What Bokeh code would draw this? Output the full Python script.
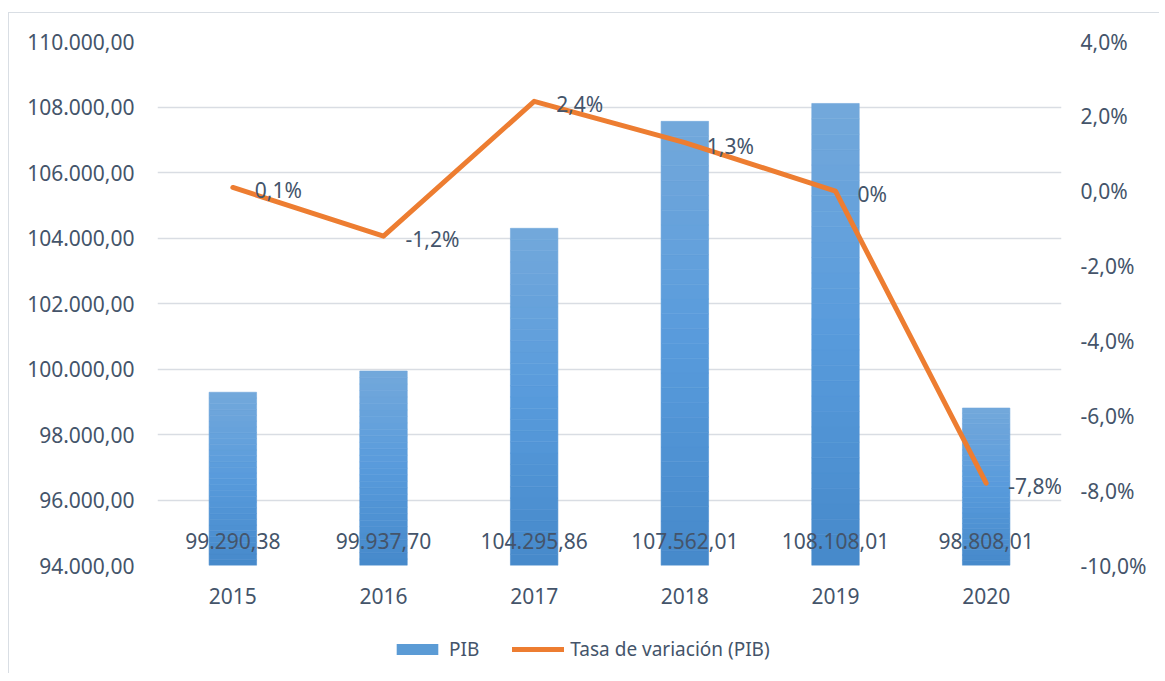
from bokeh.plotting import figure
from bokeh.layouts import column
from bokeh.models import (Range1d, FactorRange, LinearAxis, FixedTicker,
                          CustomJSTickFormatter, ColumnDataSource, Legend, LegendItem)
from bokeh.core.properties import value
from bokeh.embed import file_html
from bokeh.resources import INLINE

# ---------------- data ----------------
years = ["2015", "2016", "2017", "2018", "2019", "2020"]
pib = [99290.38, 99937.70, 104295.86, 107562.01, 108108.01, 98808.01]
pib_labels = ["99.290,38", "99.937,70", "104.295,86", "107.562,01", "108.108,01", "98.808,01"]
tasa = [0.1, -1.2, 2.4, 1.3, 0.0, -7.8]
tasa_labels = ["0,1%", "-1,2%", "2,4%", "1,3%", "0%", "-7,8%"]
left_ticks = [94000, 96000, 98000, 100000, 102000, 104000, 106000, 108000, 110000]
left_tick_labels = ["94.000,00", "96.000,00", "98.000,00", "100.000,00", "102.000,00",
                    "104.000,00", "106.000,00", "108.000,00", "110.000,00"]
right_ticks = [-10, -8, -6, -4, -2, 0, 2, 4]
right_tick_labels = ["-10,0%", "-8,0%", "-6,0%", "-4,0%", "-2,0%", "0,0%", "2,0%", "4,0%"]

FONT = "Noto Sans"
TXT = "#44546A"
GRID = "#D9DDE3"
ORANGE = "#ED7D31"
BLUE = "#5B9BD5"
TICK_SIZE = "21px"

base = left_ticks[0]

x_range = FactorRange(*years)
y_range = Range1d(left_ticks[0], left_ticks[-1])

p = figure(x_range=x_range, y_range=y_range,
           width=1150, height=600, output_backend="svg", toolbar_location=None,
           min_border_left=148, min_border_right=98, min_border_top=28, min_border_bottom=48)
p.outline_line_color = None
p.xgrid.grid_line_color = None
p.ygrid.grid_line_color = GRID
p.ygrid.grid_line_width = 1.5
p.ygrid.ticker = FixedTicker(ticks=left_ticks)

fmt_js = "const i = tv.indexOf(tick); return i >= 0 ? tl[i] : '';"

ly = p.yaxis[0]
ly.ticker = FixedTicker(ticks=left_ticks)
ly.formatter = CustomJSTickFormatter(args=dict(tv=left_ticks, tl=left_tick_labels), code=fmt_js)

p.extra_y_ranges = {"pct": Range1d(right_ticks[0], right_ticks[-1])}
ry = LinearAxis(y_range_name="pct", ticker=FixedTicker(ticks=right_ticks),
                formatter=CustomJSTickFormatter(args=dict(tv=right_ticks, tl=right_tick_labels), code=fmt_js))
p.add_layout(ry, "right")

for ax in [ly, ry, p.xaxis[0]]:
    ax.axis_line_color = None
    ax.major_tick_line_color = None
    ax.minor_tick_line_color = None
    ax.major_label_text_font = FONT
    ax.major_label_text_font_size = TICK_SIZE
    ax.major_label_text_color = TXT
ly.major_label_standoff = 17
ry.major_label_standoff = 13
p.xaxis[0].major_label_standoff = 16

# ---------------- gradient bars ----------------
def mix(c1, c2, t):
    return "#%02x%02x%02x" % tuple(int(round(a + (b - a) * t)) for a, b in zip(c1, c2))

c_bot = (70, 137, 202)
c_mid = (88, 155, 220)
c_top = (115, 168, 219)

N = 30
bx, bb, bt, bc = [], [], [], []
for yr, v in zip(years, pib):
    for k in range(N):
        t0, t1 = k / N, (k + 1) / N
        tm = (t0 + t1) / 2
        col = mix(c_bot, c_mid, tm / 0.5) if tm < 0.5 else mix(c_mid, c_top, (tm - 0.5) / 0.5)
        bx.append(yr)
        bb.append(base + (v - base) * t0)
        bt.append(base + (v - base) * t1)
        bc.append(col)
bar_src = ColumnDataSource(dict(x=bx, bottom=bb, top=bt, color=bc))
p.vbar(x="x", bottom="bottom", top="top", width=0.315, source=bar_src,
       fill_color="color", line_color="color", line_width=0.6)

# bar value labels (inside base)
p.text(x=years, y=[base] * len(years), text=pib_labels, y_offset=-25,
       text_align="center", text_baseline="middle", text_font=value(FONT),
       text_font_size=TICK_SIZE, text_color=TXT)

# ---------------- line ----------------
p.line(x=years, y=tasa, y_range_name="pct", line_color=ORANGE, line_width=5,
       line_cap="round", line_join="round")
p.text(x=years, y=tasa, text=tasa_labels, y_range_name="pct", x_offset=22, y_offset=3,
       text_align="left", text_baseline="middle", text_font=value(FONT),
       text_font_size=TICK_SIZE, text_color=TXT)

# ---------------- legend strip ----------------
q = figure(x_range=x_range, y_range=y_range, width=1150, height=60,
           output_backend="svg", toolbar_location=None,
           min_border_left=0, min_border_right=0, min_border_top=0, min_border_bottom=0)
q.axis.visible = False
q.grid.grid_line_color = None
q.outline_line_color = None
lb = q.vbar(x=years, top=pib, bottom=base, width=0.3, fill_color=BLUE, line_color=None, visible=False)
ll = q.line(x=years, y=pib, line_color=ORANGE, line_width=5, line_cap="round", visible=False)

legend = Legend(items=[LegendItem(label="PIB", renderers=[lb]),
                       LegendItem(label="Tasa de variación (PIB)", renderers=[ll])],
                location=(234, 11), orientation="horizontal", glyph_width=52, glyph_height=14,
                label_standoff=6, spacing=33, padding=0, margin=0, border_line_color=None,
                inactive_fill_alpha=0,
                background_fill_alpha=0, label_text_font=FONT, label_text_font_size="19px",
                label_text_color=TXT)
q.add_layout(legend)

layout = column(p, q)
layout.styles = {"border-left": "1px solid #D9DEE4", "border-top": "1px solid #D9DEE4",
                 "margin-top": "12px", "margin-left": "8px"}

open("out.html", "w").write(file_html(layout, INLINE))
